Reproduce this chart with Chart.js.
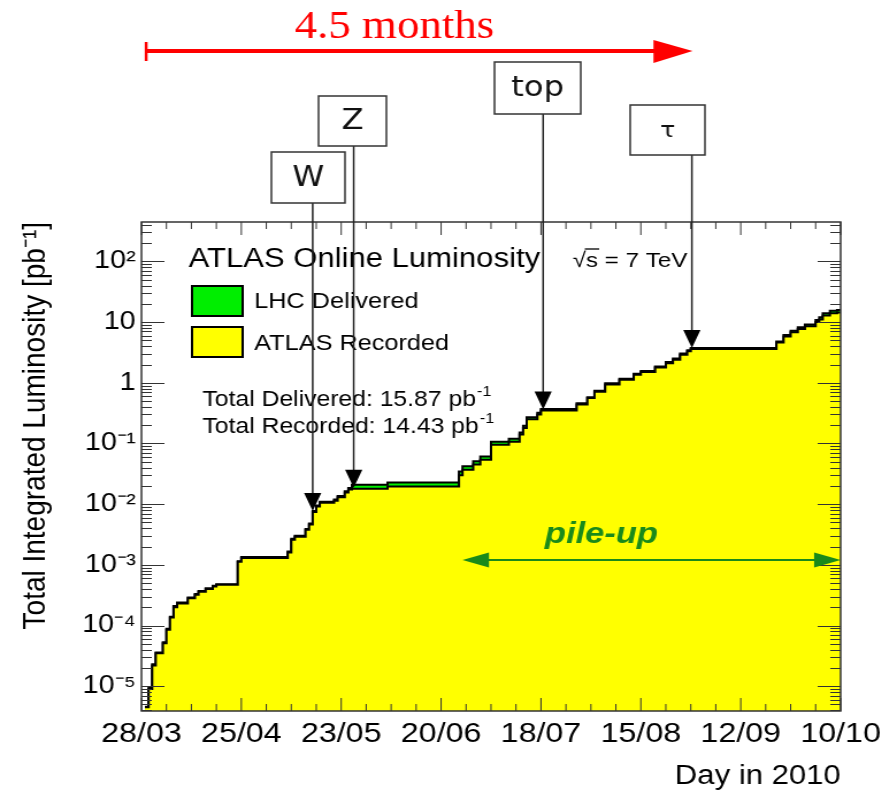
<!DOCTYPE html>
<html>
<head>
<meta charset="utf-8">
<script src="https://cdn.jsdelivr.net/npm/chart.js@4.4.1/dist/chart.umd.min.js"></script>
<style>
  html, body { margin: 0; padding: 0; background: #fff; overflow: hidden; }
  /* the original plot was stretched sideways, so the canvas is stretched the same way */
  #lumi { display: block; transform: scaleX(1.15); transform-origin: 0 0; }
</style>
</head>
<body>
<canvas id="lumi" width="772" height="792"></canvas>
<script>
// days counted from 28/03/2010
const dateLabels = ['28/03', '25/04', '23/05', '20/06', '18/07', '15/08', '12/09', '10/10'];
const dayMax = 196;
const yTickLabels = ['10⁻⁵', '10⁻⁴', '10⁻³', '10⁻²', '10⁻¹', '1', '10', '10²'];

const days = [1, 2, 3, 4, 6, 7, 8, 9, 10, 13,
  15, 16, 18, 20, 21, 27, 28, 41, 42, 43,
  46, 47, 48, 49, 50, 54, 55, 57, 58, 59,
  69, 89, 90, 93, 95, 98, 103, 106, 107, 108,
  111, 112, 122, 125, 127, 130, 134, 138, 140, 144,
  147, 149, 151, 153, 154, 178, 180, 182, 184, 186,
  189, 190, 191, 193, 195, 196];
const recorded = [4.5e-6, 9e-6, 2.2e-5, 3.5e-5, 5.1e-5, 8.5e-5, 1.35e-4, 2.0e-4, 2.3e-4, 2.8e-4,
  3.2e-4, 3.6e-4, 4.0e-4, 4.4e-4, 4.7e-4, 1.12e-3, 1.3e-3, 1.6e-3, 2.6e-3, 2.9e-3,
  3.8e-3, 4.6e-3, 7.4e-3, 9.1e-3, 1.05e-2, 1.14e-2, 1.3e-2, 1.55e-2, 1.75e-2, 1.8e-2,
  1.95e-2, 3.0e-2, 3.7e-2, 4.5e-2, 5.4e-2, 9.5e-2, 0.107, 0.14, 0.18, 0.25,
  0.30, 0.35, 0.44, 0.56, 0.71, 0.94, 1.12, 1.35, 1.5, 1.78,
  2.1, 2.4, 2.9, 3.3, 3.6, 4.6, 5.8, 6.8, 7.7, 8.5,
  10, 11, 12.9, 14.0, 14.43, 14.43];
const delivered = [4.6e-6, 9.3e-6, 2.3e-5, 3.6e-5, 5.3e-5, 8.8e-5, 1.4e-4, 2.1e-4, 2.4e-4, 2.9e-4,
  3.3e-4, 3.7e-4, 4.1e-4, 4.5e-4, 4.8e-4, 1.15e-3, 1.34e-3, 1.65e-3, 2.7e-3, 3.0e-3,
  3.9e-3, 4.8e-3, 7.7e-3, 9.5e-3, 1.09e-2, 1.19e-2, 1.36e-2, 1.63e-2, 1.85e-2, 2.08e-2,
  2.28e-2, 3.45e-2, 4.2e-2, 5.1e-2, 6.1e-2, 0.107, 0.12, 0.152, 0.195, 0.27,
  0.32, 0.37, 0.46, 0.58, 0.74, 0.98, 1.17, 1.41, 1.57, 1.86,
  2.2, 2.5, 3.05, 3.45, 3.75, 4.8, 6.1, 7.2, 8.2, 9.1,
  10.8, 12.0, 14.0, 15.4, 15.87, 15.87];
const totalDelivered = 15.87;
const totalRecorded = 14.43;

// physics milestones
const eventLabels = ['W', 'Z', 'top', 'τ'];
const eventDays = [48, 59.5, 112.6, 154.3];
const eventBoxes = [[236, 152, 64, 51], [277, 96, 59, 50], [430, 62, 75, 52], [548, 105, 65, 50]];
const monthsArrow = [1, 154.5];
const pileupDays = [90, 196];

const deliveredColor = '#00ee00';
const recordedColor = '#ffff00';
const sans = '"Liberation Sans", Arial, sans-serif';

function recordedAt(d) {
  let v = recorded[0];
  days.forEach((dd, i) => { if (dd <= d) v = recorded[i]; });
  return v;
}

const decor = {
  id: 'decor',
  afterDatasetsDraw(chart) {
    const { ctx, chartArea: a, scales: { x, y } } = chart;
    ctx.save();
    ctx.strokeStyle = '#333';
    ctx.lineWidth = 1;
    ctx.beginPath();
    for (let e = -6; e <= 2; e++) {
      for (let k = 1; k <= 9; k++) {
        const v = k * Math.pow(10, e);
        if (v < y.min || v > y.max) continue;
        const py = Math.round(y.getPixelForValue(v)) + 0.5;
        const len = k === 1 ? 20 : 9;
        ctx.moveTo(a.left, py); ctx.lineTo(a.left + len, py);
        ctx.moveTo(a.right, py); ctx.lineTo(a.right - len, py);
      }
    }
    for (let d = 0; d <= dayMax; d += 7) {
      const px = x.getPixelForValue(d);
      const len = d % 28 === 0 ? 13 : 7;
      ctx.moveTo(px, a.bottom); ctx.lineTo(px, a.bottom - len);
      ctx.moveTo(px, a.top); ctx.lineTo(px, a.top + len);
    }
    ctx.stroke();
    ctx.lineWidth = 1.5;
    ctx.strokeRect(a.left, a.top, a.right - a.left, a.bottom - a.top);
    ctx.restore();
  },
  afterDraw(chart) {
    const { ctx, chartArea: a, scales: { x, y } } = chart;
    ctx.save();

    // legend and totals
    ctx.fillStyle = '#000';
    ctx.textBaseline = 'alphabetic';
    ctx.font = '27px ' + sans;
    ctx.fillText('ATLAS Online Luminosity', 164, 267);
    ctx.font = '21px ' + sans;
    ctx.fillText('√s = 7 TeV', 498, 267);
    const wr = ctx.measureText('√').width, ws = ctx.measureText('√s').width;
    ctx.strokeStyle = '#000';
    ctx.lineWidth = 1.3;
    ctx.beginPath(); ctx.moveTo(498 + wr - 1, 249); ctx.lineTo(498 + ws + 1, 249); ctx.stroke();

    ctx.lineWidth = 2;
    ctx.fillStyle = deliveredColor;
    ctx.fillRect(167, 286, 44, 30); ctx.strokeRect(167, 286, 44, 30);
    ctx.fillStyle = recordedColor;
    ctx.fillRect(167, 327, 44, 30); ctx.strokeRect(167, 327, 44, 30);
    ctx.fillStyle = '#000';
    ctx.font = '22px ' + sans;
    ctx.fillText('LHC Delivered', 221, 308);
    ctx.fillText('ATLAS Recorded', 221, 350);

    [['Total Delivered: ', totalDelivered, 406], ['Total Recorded: ', totalRecorded, 433]].forEach(([t, v, by]) => {
      const s = t + v.toFixed(2) + ' pb';
      ctx.font = '21.5px ' + sans;
      ctx.fillText(s, 176, by);
      const w = ctx.measureText(s).width;
      ctx.font = '14px ' + sans;
      ctx.fillText('-1', 176 + w + 1, by - 10);
    });

    // milestone arrows
    eventDays.forEach((d, i) => {
      const px = x.getPixelForValue(d);
      const py = y.getPixelForValue(recordedAt(d)) - 1;
      const [bx, by, bw, bh] = eventBoxes[i];
      ctx.strokeStyle = '#222';
      ctx.lineWidth = 1.5;
      ctx.beginPath(); ctx.moveTo(px, by + bh); ctx.lineTo(px, py - 16); ctx.stroke();
      ctx.fillStyle = '#000';
      ctx.beginPath(); ctx.moveTo(px, py); ctx.lineTo(px - 7.5, py - 18); ctx.lineTo(px + 7.5, py - 18); ctx.closePath(); ctx.fill();
      ctx.fillStyle = '#fff';
      ctx.fillRect(bx, by, bw, bh);
      ctx.strokeStyle = '#333';
      ctx.strokeRect(bx, by, bw, bh);
      ctx.fillStyle = '#111';
      ctx.font = (eventLabels[i] === 'τ' ? '22px' : '28px') + ' "DejaVu Sans", sans-serif';
      ctx.textAlign = 'center';
      ctx.textBaseline = 'middle';
      ctx.fillText(eventLabels[i], bx + bw / 2, by + bh / 2 + 1);
    });

    // 4.5 months arrow
    const rx0 = x.getPixelForValue(monthsArrow[0]), rx1 = x.getPixelForValue(monthsArrow[1]);
    ctx.strokeStyle = '#f00';
    ctx.fillStyle = '#f00';
    ctx.lineWidth = 4;
    ctx.beginPath(); ctx.moveTo(rx0, 51); ctx.lineTo(rx1 - 30, 51); ctx.stroke();
    ctx.lineWidth = 2.5;
    ctx.beginPath(); ctx.moveTo(rx0 + 1, 42); ctx.lineTo(rx0 + 1, 61); ctx.stroke();
    ctx.beginPath(); ctx.moveTo(rx1, 51); ctx.lineTo(rx1 - 34, 40); ctx.lineTo(rx1 - 34, 63); ctx.closePath(); ctx.fill();
    ctx.font = '39px "Liberation Serif", "Times New Roman", serif';
    ctx.textAlign = 'center';
    ctx.textBaseline = 'alphabetic';
    ctx.fillText('4.5 months', 343, 38);

    // pile-up arrow
    const gx0 = x.getPixelForValue(pileupDays[0]), gx1 = x.getPixelForValue(pileupDays[1]);
    const gy = 560;
    ctx.strokeStyle = '#1a8a1a';
    ctx.fillStyle = '#1a8a1a';
    ctx.lineWidth = 2;
    ctx.beginPath(); ctx.moveTo(gx0 + 20, gy); ctx.lineTo(gx1 - 20, gy); ctx.stroke();
    ctx.beginPath(); ctx.moveTo(gx0, gy); ctx.lineTo(gx0 + 23, gy - 7.5); ctx.lineTo(gx0 + 23, gy + 7.5); ctx.closePath(); ctx.fill();
    ctx.beginPath(); ctx.moveTo(gx1, gy); ctx.lineTo(gx1 - 23, gy - 7.5); ctx.lineTo(gx1 - 23, gy + 7.5); ctx.closePath(); ctx.fill();
    ctx.font = 'italic bold 30px ' + sans;
    ctx.fillText('pile-up', 523, 543);

    ctx.restore();
  }
};

const ctx = document.getElementById('lumi').getContext('2d');
new Chart(ctx, {
  type: 'line',
  data: {
    datasets: [{
      label: 'ATLAS Recorded',
      data: days.map((d, i) => ({ x: d, y: recorded[i] })),
      borderColor: '#000',
      backgroundColor: recordedColor,
      borderWidth: 2,
      stepped: 'before',
      pointRadius: 0,
      fill: 'start',
    }, {
      label: 'LHC Delivered',
      data: days.map((d, i) => ({ x: d, y: delivered[i] })),
      borderColor: '#000',
      backgroundColor: deliveredColor,
      borderWidth: 2,
      stepped: 'before',
      pointRadius: 0,
      fill: 'start',
    }]
  },
  options: {
    responsive: false,
    animation: false,
    devicePixelRatio: 1,
    layout: { padding: { left: 0, right: 41, top: 222, bottom: 0 } },
    plugins: { legend: { display: false }, tooltip: { enabled: false } },
    scales: {
      x: {
        type: 'linear',
        min: 0,
        max: dayMax,
        grid: { display: false, drawTicks: false },
        border: { display: false },
        afterFit: (s) => { s.height = 81; },
        ticks: {
          stepSize: 28,
          autoSkip: false,
          maxRotation: 0,
          padding: 6,
          color: '#000',
          font: { size: 28, family: sans },
          callback: (v) => dateLabels[Math.round(v / 28)] || '',
        },
        title: {
          display: true,
          text: 'Day in 2010',
          align: 'end',
          color: '#000',
          font: { size: 27, family: sans },
          padding: { top: 0, bottom: -1 },
        },
      },
      y: {
        type: 'logarithmic',
        min: 3.9e-6,
        max: 446,
        grid: { display: false, drawTicks: false },
        border: { display: false },
        afterFit: (s) => { s.width = 123; },
        ticks: {
          autoSkip: false,
          padding: 5,
          color: '#000',
          font: { size: 25, family: sans },
          callback: (v) => {
            const e = Math.log10(v), r = Math.round(e);
            return Math.abs(e - r) < 1e-6 ? (yTickLabels[r + 5] || '') : '';
          },
        },
        title: {
          display: true,
          text: 'Total Integrated Luminosity [pb⁻¹]',
          align: 'end',
          color: '#000',
          font: { size: 28, family: sans },
          padding: { top: 14, bottom: 0 },
        },
      },
    },
  },
  plugins: [decor],
});
</script>
</body>
</html>
